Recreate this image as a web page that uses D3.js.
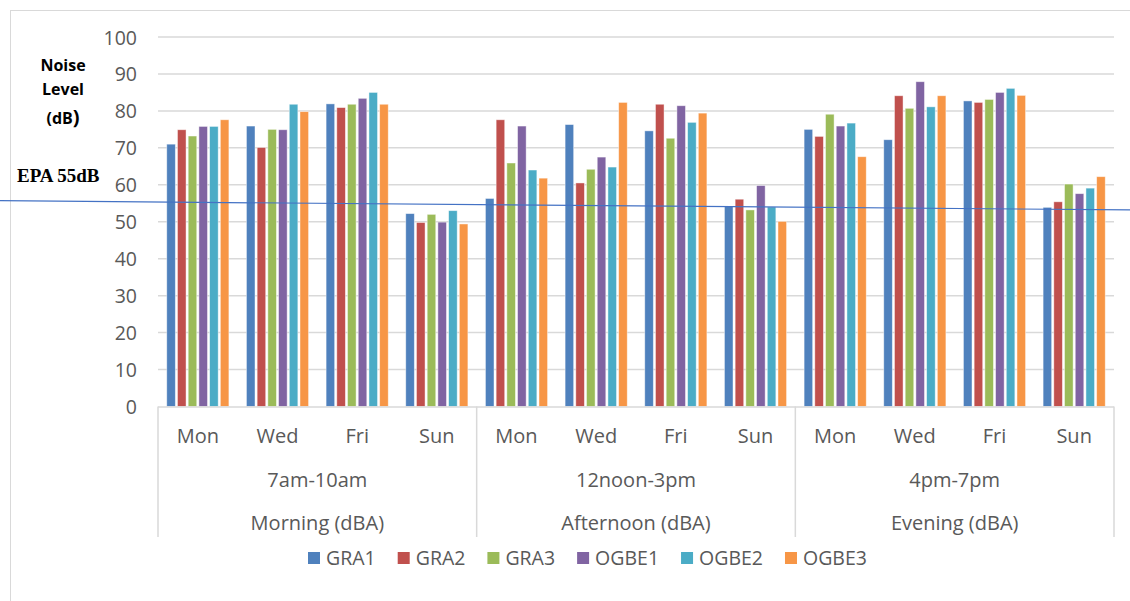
<!DOCTYPE html>
<html>
<head>
<meta charset="utf-8">
<script src="https://cdn.jsdelivr.net/npm/d3@7"></script>
<style>
  body { margin: 0; background: #fff; }
  text { font-family: "Open Sans", sans-serif; }
</style>
</head>
<body>
<svg id="plot" width="1130" height="601"></svg>
<script>
const periods = ['Morning (dBA)', 'Afternoon (dBA)', 'Evening (dBA)']
const timeRanges = ['7am-10am', '12noon-3pm', '4pm-7pm']
const days = ['Mon', 'Wed', 'Fri', 'Sun']
const seriesNames = ['GRA1', 'GRA2', 'GRA3', 'OGBE1', 'OGBE2', 'OGBE3']
const seriesColors = ['#4F81BD', '#C0504D', '#9BBB59', '#8064A2', '#4BACC6', '#F79646']
// values ordered Morning Mon..Sun, Afternoon Mon..Sun, Evening Mon..Sun
const gra1 = [71.0, 75.9, 81.9, 52.2, 56.3, 76.3, 74.6, 54.2, 75.0, 72.2, 82.7, 53.9]
const gra2 = [74.9, 70.1, 80.9, 49.8, 77.6, 60.5, 81.8, 56.1, 73.1, 84.1, 82.3, 55.4]
const gra3 = [73.2, 75.0, 81.8, 52.0, 65.9, 64.2, 72.6, 53.2, 79.1, 80.7, 83.1, 60.2]
const ogbe1 = [75.8, 74.9, 83.4, 49.9, 75.9, 67.5, 81.4, 59.8, 75.9, 87.9, 85.0, 57.6]
const ogbe2 = [75.8, 81.8, 85.0, 53.0, 64.0, 64.8, 76.9, 54.0, 76.7, 81.1, 86.1, 59.1]
const ogbe3 = [77.6, 79.8, 81.8, 49.4, 61.8, 82.3, 79.4, 50.1, 67.6, 84.1, 84.2, 62.2]
const yTicks = [0, 10, 20, 30, 40, 50, 60, 70, 80, 90, 100]
const epaLine = [55.7, 53.2] // EPA reference line, value at left and right edge of picture

const seriesValues = [gra1, gra2, gra3, ogbe1, ogbe2, ogbe3]
const slots = []
periods.forEach((p, pi) => days.forEach((d, di) => slots.push({ key: pi + '-' + d, period: pi, day: d })))

const W = 1130, H = 601
const plotLeft = 158, plotRight = 1114, plotTop = 37, plotBottom = 406.5
const grey = '#595959', lineGrey = '#d9d9d9'

let svg = d3.select('#plot')

svg.append('rect').attr('x', 10.5).attr('y', 10.5).attr('width', 1200).attr('height', 700)
  .attr('fill', '#fff').attr('stroke', lineGrey).attr('stroke-width', 1)

const y = d3.scaleLinear().domain([0, 100]).range([plotBottom, plotTop])
const x = d3.scaleBand().domain(slots.map(s => s.key)).range([plotLeft, plotRight]).paddingInner(0.22).paddingOuter(0.11)
const xSeries = d3.scaleBand().domain(seriesNames).range([0, x.bandwidth()]).paddingInner(0.2)
const xPeriod = d3.scaleBand().domain(periods).range([plotLeft, plotRight])

//gridlines
svg.append('g').selectAll('line').data(yTicks.filter(t => t > 0)).enter().append('line')
  .attr('x1', plotLeft).attr('x2', plotRight).attr('y1', d => y(d)).attr('y2', d => y(d))
  .attr('stroke', lineGrey).attr('stroke-width', 1.5)

//y labels
const yAxis = d3.axisLeft(y).tickValues(yTicks).tickSize(0).tickPadding(0)
svg.append('g').attr('transform', 'translate(137,0)').call(yAxis)
  .call(g => g.select('.domain').remove())
  .selectAll('text').attr('fill', grey).style('font-size', '19.5px').style('font-family', '"Open Sans", sans-serif').attr('dy', '0.36em')

//bars
const groups = svg.append('g').selectAll('g').data(slots).enter().append('g')
  .attr('transform', s => `translate(${x(s.key)},0)`)
groups.selectAll('rect').data((s, i) => seriesNames.map((n, k) => ({ name: n, value: seriesValues[k][i], color: seriesColors[k] })))
  .enter().append('rect')
  .attr('x', d => xSeries(d.name)).attr('width', xSeries.bandwidth())
  .attr('y', d => y(d.value)).attr('height', d => y(0) - y(d.value))
  .attr('fill', d => d.color).attr('stroke', '#fff').attr('stroke-opacity', 0.55).attr('stroke-width', 0.8)

//category axis
svg.append('line').attr('x1', plotLeft).attr('x2', plotRight).attr('y1', plotBottom + 0.5).attr('y2', plotBottom + 0.5)
  .attr('stroke', lineGrey).attr('stroke-width', 1.5)
const bounds = periods.map(p => xPeriod(p)).concat([plotRight])
svg.append('g').selectAll('line').data(bounds).enter().append('line')
  .attr('x1', d => d).attr('x2', d => d).attr('y1', plotBottom).attr('y2', 537)
  .attr('stroke', lineGrey).attr('stroke-width', 1.5)

svg.append('g').selectAll('text').data(slots).enter().append('text')
  .attr('x', s => x(s.key) + x.bandwidth() / 2).attr('y', 443)
  .attr('text-anchor', 'middle').attr('fill', grey).style('font-size', '20px').text(s => s.day)
svg.append('g').selectAll('text').data(timeRanges).enter().append('text')
  .attr('x', (d, i) => xPeriod(periods[i]) + xPeriod.bandwidth() / 2).attr('y', 487)
  .attr('text-anchor', 'middle').attr('fill', grey).style('font-size', '20px').text(d => d)
svg.append('g').selectAll('text').data(periods).enter().append('text')
  .attr('x', d => xPeriod(d) + xPeriod.bandwidth() / 2).attr('y', 530)
  .attr('text-anchor', 'middle').attr('fill', grey).style('font-size', '20px').text(d => d)

//EPA line
svg.append('line').attr('x1', 0).attr('x2', W).attr('y1', y(epaLine[0])).attr('y2', y(epaLine[1]))
  .attr('stroke', '#4472C4').attr('stroke-width', 1.2)
svg.append('text').attr('x', 17).attr('y', 182).attr('fill', '#000')
  .style('font-family', '"Liberation Serif", serif').style('font-weight', 'bold').style('font-size', '19px')
  .text('EPA 55dB')

//axis title
const title = svg.append('text').attr('text-anchor', 'middle').attr('fill', '#000')
  .style('font-weight', 'bold').style('font-size', '16px')
title.append('tspan').attr('x', 63).attr('y', 71).text('Noise')
title.append('tspan').attr('x', 63).attr('y', 95).text('Level')
const t3 = title.append('tspan').attr('x', 63).attr('y', 124)
t3.append('tspan').text('(dB')
t3.append('tspan').style('font-size', '20px').text(')')

//legend
const legend = svg.append('g')
let lx = 308
seriesNames.forEach((n, k) => {
  legend.append('rect').attr('x', lx).attr('y', 552).attr('width', 12).attr('height', 12).attr('fill', seriesColors[k])
  const t = legend.append('text').attr('x', lx + 18).attr('y', 564.5).attr('fill', grey).style('font-size', '19.5px').text(n)
  lx += 18 + t.node().getComputedTextLength() + 22
})
</script>
</body>
</html>
